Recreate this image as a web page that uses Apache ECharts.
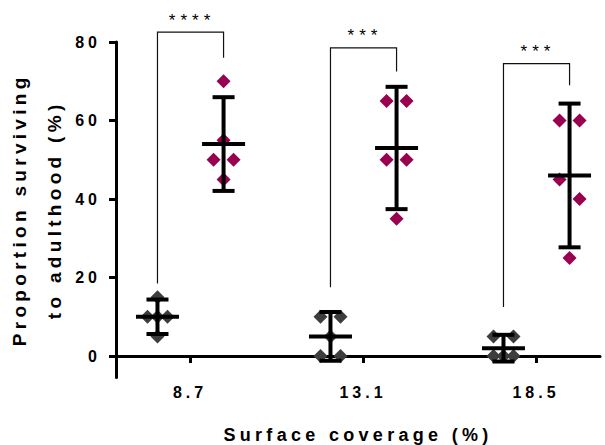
<!DOCTYPE html>
<html>
<head>
<meta charset="utf-8">
<script src="https://cdn.jsdelivr.net/npm/echarts@6/dist/echarts.min.js"></script>
<style>
html,body{margin:0;padding:0;background:#fff;}
#chart{width:605px;height:445px;}
#chart text[style*="16px"]{letter-spacing:4px;}
#chart text[style*="18px"]{letter-spacing:4.3px;}
#chart text[style*="19px"]{letter-spacing:4.3px;}
#chart text[style*="17px"]{letter-spacing:5px;}
</style>
</head>
<body>
<div id="chart"></div>
<script>
// ---- data ----
const categories = ['8.7', '13.1', '18.5'];
const darkGroupValues = [
  [15, 10, 10, 10, 5],
  [10, 10, 5, 0, 0],
  [5, 5, 0, 0, 0]
];
const maroonGroupValues = [
  [70, 55, 50, 50, 45],
  [65, 65, 50, 50, 35],
  [60, 60, 45, 40, 25]
];
const yTickValues = [0, 20, 40, 60, 80];
const significanceLabels = ['****', '***', '***'];
const bracketTop = [82.5, 78.5, 74.5];
const bracketLeftEnd = [18.5, 17.5, 12.5];
const bracketRightEnd = [76, 72.5, 69];

// ---- layout / style ----
const FONT = '"Liberation Sans", Arial, sans-serif';
const DARK = '#3d3d3d';
const MAROON = '#9a0050';
const DARK_OFF = -0.188;
const MAROON_OFF = 0.194;
const GRID_LEFT = 116, GRID_RIGHT = 5, GRID_TOP = 42, GRID_BOTTOM = 67.4;
const X_MIN = 1 - (190 - GRID_LEFT) / 173;
const X_MAX = 3 + (605 - GRID_RIGHT - 536) / 173;
const Y_MIN = -5.5, Y_MAX = 80;
const PX_PER_Y = (445 - GRID_TOP - GRID_BOTTOM) / (Y_MAX - Y_MIN);
const T_TABLE = {1: 12.706, 2: 4.303, 3: 3.182, 4: 2.776, 5: 2.571, 6: 2.447};

function mean(a) { return a.reduce((s, v) => s + v, 0) / a.length; }
function ci95(a) {
  const m = mean(a);
  const sd = Math.sqrt(a.reduce((s, v) => s + (v - m) * (v - m), 0) / (a.length - 1));
  return T_TABLE[a.length - 1] * sd / Math.sqrt(a.length);
}
// spread identical values side by side, and pair up near single values (px offsets)
function spreadOffsets(vals) {
  const counts = {}, seen = {};
  vals.forEach(v => counts[v] = (counts[v] || 0) + 1);
  const offs = vals.map(v => {
    const k = counts[v];
    const i = seen[v] = (seen[v] || 0) + 1;
    return k === 1 ? 0 : -10 + 20 * (i - 1) / (k - 1);
  });
  for (let j = 0; j + 1 < vals.length; j++) {
    const a = vals[j], b = vals[j + 1];
    if (counts[a] === 1 && counts[b] === 1 && Math.abs(a - b) < 6 && offs[j] === 0 && offs[j + 1] === 0) {
      offs[j] = -10; offs[j + 1] = 10; j++;
    }
  }
  return offs;
}
function scatterData(groups, off) {
  const out = [];
  groups.forEach((vals, gi) => {
    const offs = spreadOffsets(vals);
    vals.forEach((v, j) => out.push({ value: [gi + 1 + off, v], symbolOffset: [offs[j], 0] }));
  });
  return out;
}
function errorData(groups, off) {
  return groups.map((vals, gi) => {
    const m = mean(vals), h = ci95(vals);
    return [gi + 1 + off, m, m - h, m + h];
  });
}
function renderError(params, api) {
  const x = api.value(0);
  const pm = api.coord([x, api.value(1)]);
  const pl = api.coord([x, api.value(2)]);
  const ph = api.coord([x, api.value(3)]);
  const st = { stroke: '#000', lineWidth: 4, fill: null };
  return {
    type: 'group',
    children: [
      { type: 'line', shape: { x1: pl[0], y1: pl[1], x2: ph[0], y2: ph[1] }, style: st },
      { type: 'line', shape: { x1: pl[0] - 11, y1: pl[1], x2: pl[0] + 11, y2: pl[1] }, style: st },
      { type: 'line', shape: { x1: ph[0] - 11, y1: ph[1], x2: ph[0] + 11, y2: ph[1] }, style: st },
      { type: 'line', shape: { x1: pm[0] - 21.5, y1: pm[1], x2: pm[0] + 21.5, y2: pm[1] }, style: st }
    ]
  };
}
const bracketData = categories.map((c, i) => [i + 1 + DARK_OFF, i + 1 + MAROON_OFF, bracketTop[i], bracketLeftEnd[i], bracketRightEnd[i], i]);
function renderBracket(params, api) {
  const x1 = api.value(0), x2 = api.value(1), top = api.value(2);
  const a = api.coord([x1, api.value(3)]);
  const b = api.coord([x1, top]);
  const c = api.coord([x2, top]);
  const d = api.coord([x2, api.value(4)]);
  return {
    type: 'group',
    children: [
      { type: 'polyline', shape: { points: [a, b, c, d] }, style: { stroke: '#111', lineWidth: 1.2, fill: null } },
      { type: 'text', style: {
          text: significanceLabels[api.value(5)], x: (b[0] + c[0]) / 2 + 1.5, y: b[1] - 12,
          textAlign: 'center', textVerticalAlign: 'middle', fontSize: 17, fontFamily: FONT, fill: '#000' } }
    ]
  };
}

const chart = echarts.init(document.getElementById('chart'), null, { renderer: 'svg' });
chart.setOption({
  animation: false,
  backgroundColor: '#fff',
  grid: { left: GRID_LEFT, right: GRID_RIGHT, top: GRID_TOP, bottom: GRID_BOTTOM,
          containLabel: false, outerBoundsMode: 'none' },
  xAxis: {
    type: 'value', min: X_MIN, max: X_MAX, position: 'bottom',
    offset: Y_MIN * PX_PER_Y,
    splitLine: { show: false },
    axisLine: { show: true, onZero: false, lineStyle: { color: '#000', width: 3 } },
    axisTick: { show: true, customValues: [1, 2, 3], length: 7, lineStyle: { color: '#000', width: 3 } },
    axisLabel: { customValues: [1, 2, 3], formatter: v => categories[Math.round(v) - 1],
      margin: 28, fontSize: 16, fontWeight: 'bold', color: '#000', fontFamily: FONT },
    name: 'Surface coverage (%)', nameLocation: 'middle', nameGap: 70,
    nameTextStyle: { fontSize: 18, fontWeight: 'bold', color: '#000', fontFamily: FONT }
  },
  yAxis: {
    type: 'value', min: Y_MIN, max: Y_MAX,
    splitLine: { show: false },
    axisLine: { show: true, onZero: false, lineStyle: { color: '#000', width: 3 } },
    axisTick: { show: true, customValues: yTickValues, length: 7, lineStyle: { color: '#000', width: 3 } },
    axisLabel: { customValues: yTickValues, margin: 15, fontSize: 16, fontWeight: 'bold', color: '#000', fontFamily: FONT },
    name: 'Proportion surviving\nto adulthood (%)', nameLocation: 'middle', nameGap: 41, nameRotate: 90,
    nameTextStyle: { fontSize: 19, fontWeight: 'bold', color: '#000', fontFamily: FONT, lineHeight: 35 }
  },
  series: [
    { name: 'dark', type: 'scatter', symbol: 'diamond', symbolSize: 14, itemStyle: { color: DARK, opacity: 1 },
      data: scatterData(darkGroupValues, DARK_OFF), z: 2 },
    { name: 'maroon', type: 'scatter', symbol: 'diamond', symbolSize: 14, itemStyle: { color: MAROON, opacity: 1 },
      data: scatterData(maroonGroupValues, MAROON_OFF), z: 2 },
    { name: 'darkError', type: 'custom', renderItem: renderError, data: errorData(darkGroupValues, DARK_OFF),
      encode: { x: 0, y: [1, 2, 3] }, z: 5, silent: true },
    { name: 'maroonError', type: 'custom', renderItem: renderError, data: errorData(maroonGroupValues, MAROON_OFF),
      encode: { x: 0, y: [1, 2, 3] }, z: 5, silent: true },
    { name: 'brackets', type: 'custom', renderItem: renderBracket, data: bracketData,
      encode: { x: [0, 1], y: [2, 3, 4] }, z: 6, silent: true, clip: false }
  ]
});
</script>
</body>
</html>
